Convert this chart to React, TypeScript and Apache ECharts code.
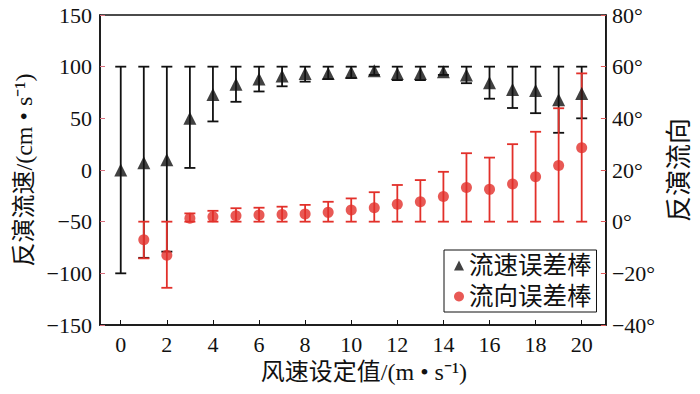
import React, { useEffect, useRef } from "react";
import * as echarts from "echarts";

const windSpeed = [0, 1, 2, 3, 4, 5, 6, 7, 8, 9, 10, 11, 12, 13, 14, 15, 16, 17, 18, 19, 20];
const speedMean = [0, 7, 10, 50, 73, 83, 88, 91, 93.5, 93.5, 94.5, 96, 93.5, 93.5, 95, 92, 84.5, 78, 77, 68, 74];
const speedLow = [-100, -85, -79, 2, 47, 66, 76, 81, 85.5, 88, 89, 92, 87, 87, 92, 84, 69, 60, 55, 36, 50];
const speedHigh = [100, 100, 100, 100, 100, 100, 100, 100, 100, 100, 100, 100, 100, 100, 100, 100, 100, 100, 100, 100, 100];

const dirX = [1, 2, 3, 4, 5, 6, 7, 8, 9, 10, 11, 12, 13, 14, 15, 16, 17, 18, 19, 20];
const dirMean = [-7, -13, 1.3, 1.9, 2.3, 2.6, 2.8, 3, 3.6, 4.5, 5.4, 6.7, 7.7, 9.7, 13.2, 12.5, 14.6, 17.4, 21.7, 28.6];
const dirLow = [-14.2, -25.6, 0, 0, 0, 0, 0, 0, 0, 0, 0, 0, 0, 0, 0, 0, 0, 0, 0, 0];
const dirHigh = [0, 0, 3.2, 4.2, 5.2, 5.4, 5.8, 6.5, 7.7, 9, 11.4, 14.2, 16.1, 19.3, 26.5, 24.8, 30, 34.8, 43.9, 57.4];

const xTicks = [0, 2, 4, 6, 8, 10, 12, 14, 16, 18, 20];

const BLACK = "#111111";
const RED = "#e2302a";
const SERIF = "Liberation Serif";
const CJK = "Liberation Serif, Noto Sans CJK SC";

const minus = (v: number | string) => String(v).replace("-", "\u2212");

function errorBar(color: string) {
  return (params: any, api: any) => {
    const x = api.value(0);
    const lo = api.value(1);
    const hi = api.value(2);
    const pLo = api.coord([x, lo]);
    const pHi = api.coord([x, hi]);
    const half = 5.5;
    const style = { stroke: color, lineWidth: 1.8 };
    return {
      type: "group",
      children: [
        { type: "line", shape: { x1: pHi[0], y1: pHi[1], x2: pLo[0], y2: pLo[1] }, style },
        { type: "line", shape: { x1: pHi[0] - half, y1: pHi[1], x2: pHi[0] + half, y2: pHi[1] }, style },
        { type: "line", shape: { x1: pLo[0] - half, y1: pLo[1], x2: pLo[0] + half, y2: pLo[1] }, style },
      ],
    };
  };
}

export default function App() {
  const ref = useRef<HTMLDivElement>(null);
  useEffect(() => {
    if (!ref.current) return;
    const chart = echarts.init(ref.current, null, { renderer: "svg" });
    const speedBars = windSpeed.map((x, i) => [x, speedLow[i], speedHigh[i]]);
    const dirBars = dirX.map((x, i) => [x, dirLow[i], dirHigh[i]]);
    chart.setOption({
      animation: false,
      backgroundColor: "#ffffff",
      grid: {
        left: 100,
        right: 80,
        top: 15,
        bottom: 69,
        show: true,
        borderColor: BLACK,
        borderWidth: 1.5,
        backgroundColor: "transparent",
      },
      legend: {
        orient: "vertical",
        left: 444,
        top: 250,
        borderColor: BLACK,
        borderWidth: 1,
        padding: [2, 5, 2, 10],
        itemGap: 4,
        itemWidth: 10,
        itemHeight: 10,
        textStyle: { fontSize: 24.5, fontFamily: CJK, color: "#111", lineHeight: 27 },
        data: ["流速误差棒", "流向误差棒"],
      },
      xAxis: {
        type: "value",
        min: -0.9,
        max: 21.05,
        name: "风速设定值/(m • s\u207B\u00B9)",
        nameLocation: "middle",
        nameGap: 35,
        nameTextStyle: { fontSize: 24, fontFamily: CJK, color: "#111", padding: [0, 0, 0, 22] },
        axisLine: { show: true, onZero: false, lineStyle: { color: BLACK, width: 1.5 } },
        axisTick: { show: true, inside: true, length: 5, customValues: xTicks, lineStyle: { color: BLACK } },
        axisLabel: { customValues: xTicks, fontSize: 22, fontFamily: SERIF, color: "#111", margin: 8 },
        splitLine: { show: false },
      },
      yAxis: [
        {
          type: "value",
          min: -150,
          max: 150,
          interval: 50,
          position: "left",
          name: "反演流速/(cm • s\u207B\u00B9)",
          nameLocation: "middle",
          nameRotate: 90,
          nameGap: 58,
          nameTextStyle: { fontSize: 24, fontFamily: CJK, color: "#111" },
          axisLine: { show: true, onZero: false, lineStyle: { color: BLACK, width: 1.5 } },
          axisTick: { show: true, inside: true, length: 5, lineStyle: { color: "#d9707e" } },
          axisLabel: { fontSize: 22, fontFamily: SERIF, color: "#111", margin: 8, formatter: (v: number) => minus(v) },
          splitLine: { show: false },
        },
        {
          type: "value",
          min: -40,
          max: 80,
          interval: 20,
          position: "right",
          name: "反演流向",
          nameLocation: "middle",
          nameRotate: 90,
          nameGap: 48,
          nameTextStyle: { fontSize: 26, fontFamily: CJK, color: "#111" },
          axisLine: { show: true, onZero: false, lineStyle: { color: BLACK, width: 1.5 } },
          axisTick: { show: true, inside: true, length: 5, lineStyle: { color: "#e05a5a" } },
          axisLabel: { fontSize: 22, fontFamily: SERIF, color: "#111", margin: 6, formatter: (v: number) => minus(v) + "°" },
          splitLine: { show: false },
        },
      ],
      series: [
        {
          type: "custom",
          name: "speedBars",
          xAxisIndex: 0,
          yAxisIndex: 0,
          renderItem: errorBar(BLACK),
          encode: { x: 0, y: [1, 2] },
          data: speedBars,
          z: 2,
        },
        {
          type: "custom",
          name: "dirBars",
          xAxisIndex: 0,
          yAxisIndex: 1,
          renderItem: errorBar(RED),
          encode: { x: 0, y: [1, 2] },
          data: dirBars,
          z: 3,
        },
        {
          type: "scatter",
          name: "流速误差棒",
          xAxisIndex: 0,
          yAxisIndex: 0,
          symbol: "triangle",
          symbolSize: 13,
          itemStyle: { color: BLACK },
          data: windSpeed.map((x, i) => [x, speedMean[i]]),
          z: 4,
        },
        {
          type: "scatter",
          name: "流向误差棒",
          xAxisIndex: 0,
          yAxisIndex: 1,
          symbol: "circle",
          symbolSize: 11,
          itemStyle: { color: RED },
          data: dirX.map((x, i) => [x, dirMean[i]]),
          z: 5,
        },
      ],
    });
    return () => chart.dispose();
  }, []);
  return (
    <div
      ref={ref}
      style={{ position: "fixed", left: 0, top: 0, width: 700, height: 394, background: "#fff" }}
    />
  );
}
